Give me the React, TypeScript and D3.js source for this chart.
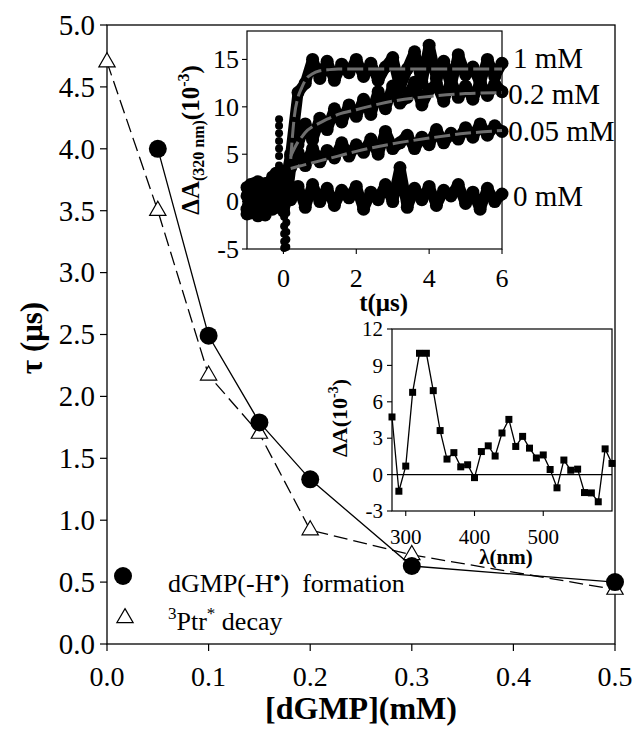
import React from 'react';
import * as d3 from 'd3';

// main plot: lifetimes vs [dGMP]
const radicalConc = [0.05, 0.1, 0.15, 0.2, 0.3, 0.5];
const radicalTau = [4.0, 2.49, 1.79, 1.33, 0.63, 0.5];
const ptrConc = [0, 0.05, 0.1, 0.15, 0.2, 0.3, 0.5];
const ptrTau = [4.7, 3.5, 2.17, 1.7, 0.92, 0.72, 0.44];
const xTicks = [0, 0.1, 0.2, 0.3, 0.4, 0.5];
const yTicks = [0, 0.5, 1, 1.5, 2, 2.5, 3, 3.5, 4, 4.5, 5];

// inset 1: kinetic traces at 320 nm
const preTime = [-1.0, -0.9, -0.8, -0.7, -0.6, -0.5, -0.4, -0.3, -0.2, -0.1, 0.0, 0.1];
const postTime = [0.2, 0.4, 0.6, 0.8, 1.0, 1.2, 1.4, 1.6, 1.8, 2.0, 2.2, 2.4, 2.6, 2.8, 3.0,
  3.2, 3.4, 3.6, 3.8, 4.0, 4.2, 4.4, 4.6, 4.8, 5.0, 5.2, 5.4, 5.6, 5.8, 6.0];
const trace0Pre = [1.5, -1.2, 0.8, -1.5, 1.6, -0.5, 2.0, -0.8, 2.5, 0.5, -1.0, 0.3];
const trace005Pre = [-0.8, 1.8, -1.0, 1.2, -0.3, 1.9, 0.2, 2.6, 0.8, 3.2, 0.0, 0.5];
const trace02Pre = [0.6, -0.4, 1.9, 0.3, -1.2, 1.0, -0.2, 1.5, 3.0, 1.0, -0.5, 2.0];
const trace1Pre = [-1.3, 0.9, 0.0, 2.1, 0.6, -1.4, 1.2, 0.4, 1.8, -0.6, 0.8, 3.0];
const trace0Post = [0.2, 1.6, -0.6, 1.8, 0.0, 1.4, -0.4, 1.2, 0.4, 1.6, -0.8, 1.0, 0.2, 1.8, 0.0,
  3.6, -0.6, 1.4, 0.2, 1.6, -0.4, 1.2, 0.6, 1.8, -0.2, 1.0, -0.8, 1.4, 0.0, 0.8];
const trace005Post = [3.6, 5.2, 3.8, 5.6, 4.2, 5.4, 4.6, 6.2, 4.8, 6.0, 5.2, 6.6, 5.0, 7.4, 5.6,
  6.2, 7.0, 5.6, 6.8, 6.0, 7.6, 6.2, 7.2, 6.6, 7.8, 6.8, 8.2, 7.0, 8.0, 7.4];
const trace02Post = [4.8, 6.0, 8.2, 6.5, 8.8, 7.6, 9.8, 8.4, 10.2, 9.0, 10.8, 9.2, 11.6, 9.8, 12.2,
  10.4, 11.0, 12.6, 10.2, 11.8, 12.4, 10.6, 12.8, 11.0, 12.2, 10.8, 12.6, 11.2, 12.4, 11.6];
const trace1Post = [5.0, 11.5, 12.5, 15.0, 13.0, 14.8, 12.8, 14.5, 13.6, 15.0, 13.2, 14.6, 12.8, 14.2, 15.2,
  12.0, 14.0, 15.8, 12.5, 16.5, 13.0, 14.8, 12.2, 15.5, 13.4, 14.2, 12.5, 15.0, 13.2, 14.6];
const spikeUpTime = -0.12;
const spikeUpValues = [2.8, 3.8, 4.8, 5.6, 6.4, 7.2, 8.0, 8.7];
const spikeDownTime = [0.02, 0.08];
const spikeDownA = [-0.6, -1.6, -2.6, -3.4, -4.2, -4.9];
const spikeDownB = [-1.2, -2.2, -3.2, -4.0, -4.8];
const fitTime = [0.2, 0.3, 0.4, 0.5, 0.6, 0.8, 1.0, 1.2, 1.5, 2, 3, 4, 5, 6];
const fit1 = [4.5, 9.0, 11.0, 12.0, 12.8, 13.5, 13.8, 13.9, 14.0, 14.0, 14.0, 14.0, 14.0, 14.0];
const fit02 = [4.8, 5.6, 6.3, 6.8, 7.3, 7.9, 8.3, 8.7, 9.2, 9.7, 10.6, 11.1, 11.4, 11.5];
const fit005 = [3.5, 3.6, 3.7, 3.8, 3.9, 4.1, 4.3, 4.5, 4.8, 5.3, 6.1, 6.7, 7.2, 7.5];
const traceLabels = ['1 mM', '0.2 mM', '0.05 mM', '0 mM'];
const traceLabelT = [6.3, 6.17, 6.17, 6.3];
const traceLabelV = [15.05, 11.26, 7.26, 0.5];
const insetTimeTicks = [0, 2, 4, 6];
const insetAbsTicks = [-5, 0, 5, 10, 15];

// inset 2: transient spectrum
const wavelength = [280, 290, 300, 310, 320, 330, 340, 350, 360, 370, 380, 390, 400, 410, 420, 430,
  440, 450, 460, 470, 480, 490, 500, 510, 520, 530, 540, 550, 560, 570, 580, 590, 600];
const spectrum = [4.75, -1.37, 0.7, 6.78, 10.0, 10.0, 6.92, 3.63, 1.28, 1.81, 0.64, 0.81, -0.25, 1.9, 2.37, 1.53,
  3.43, 4.55, 2.32, 3.15, 2.18, 1.37, 1.62, 0.42, -1.09, 1.2, 0.36, 0.45, -1.48, -1.51, -2.24, 2.12, 0.92];
const specXTicks = [300, 400, 500];
const specYTicks = [-3, 0, 3, 6, 9, 12];

const FONT = 'Liberation Serif, Times New Roman, Tinos, serif';

export default function App() {
  // main scales
  const x = d3.scaleLinear().domain([0, 0.5]).range([107, 615]);
  const y = d3.scaleLinear().domain([0, 5]).range([644, 25]);
  const line = d3.line<[number, number]>().x(d => x(d[0])).y(d => y(d[1]));
  const radicalPts = radicalConc.map((c, i) => [c, radicalTau[i]] as [number, number]);
  const ptrPts = ptrConc.map((c, i) => [c, ptrTau[i]] as [number, number]);
  const tri = d3.symbol().type(d3.symbolTriangle).size(115)();
  const f1 = d3.format('.1f');

  // inset 1
  const ix = d3.scaleLinear().domain([-1, 6]).range([247, 502]);
  const iy = d3.scaleLinear().domain([-5, 18]).range([249, 31]);
  const iline = d3.line<[number, number]>().x(d => ix(d[0])).y(d => iy(d[1]));
  const fitLine = d3.line<[number, number]>().x(d => ix(d[0])).y(d => iy(d[1])).curve(d3.curveMonotoneX);
  const traces = [
    [trace1Pre, trace1Post],
    [trace02Pre, trace02Post],
    [trace005Pre, trace005Post],
    [trace0Pre, trace0Post],
  ].map(([pre, post]) => [
    ...preTime.map((t, i) => [t, pre[i]] as [number, number]),
    ...postTime.map((t, i) => [t, post[i]] as [number, number]),
  ]);
  const fits = [fit1, fit02, fit005].map(f => fitTime.map((t, i) => [t, f[i]] as [number, number]));
  const spikeDots: [number, number][] = [
    ...spikeUpValues.map(v => [spikeUpTime, v] as [number, number]),
    ...spikeDownA.map(v => [spikeDownTime[0], v] as [number, number]),
    ...spikeDownB.map(v => [spikeDownTime[1], v] as [number, number]),
  ];

  // inset 2
  const sx = d3.scaleLinear().domain([280, 600]).range([392, 612]);
  const sy = d3.scaleLinear().domain([-3, 12]).range([511, 329]);
  const sline = d3.line<number>().x((_, i) => sx(wavelength[i])).y(d => sy(d));

  return (
    <svg width={636} height={729} style={{ position: 'absolute', left: 0, top: 0, background: '#fff', fontFamily: FONT }}>
      <rect x={0} y={0} width={636} height={729} fill="#fff" />

      {/* main frame */}
      <rect x={x(0)} y={y(5)} width={x(0.5) - x(0)} height={y(0) - y(5)} fill="none" stroke="#000" strokeWidth={1.3} />
      {yTicks.map(t => (
        <g key={'yt' + t}>
          <line x1={x(0) - 7} x2={x(0)} y1={y(t)} y2={y(t)} stroke="#000" strokeWidth={1.2} />
          <text x={x(0) - 12} y={y(t)} dy="0.34em" textAnchor="end" fontSize={29}>{f1(t)}</text>
        </g>
      ))}
      {xTicks.map(t => (
        <g key={'xt' + t}>
          <line x1={x(t)} x2={x(t)} y1={y(0)} y2={y(0) + 7} stroke="#000" strokeWidth={1.2} />
          <text x={x(t)} y={686} textAnchor="middle" fontSize={28}>{f1(t)}</text>
        </g>
      ))}
      <text x={361} y={719} textAnchor="middle" fontSize={32} fontWeight="bold">[dGMP](mM)</text>
      <text transform="translate(42,338) rotate(-90)" textAnchor="middle" fontSize={31} fontWeight="bold">τ (μs)</text>

      {/* series */}
      <path d={line(ptrPts) || ''} fill="none" stroke="#000" strokeWidth={1.3} strokeDasharray="14,6" />
      <path d={line(radicalPts) || ''} fill="none" stroke="#000" strokeWidth={1.3} />
      {ptrPts.map((p, i) => (
        <path key={'tr' + i} d={tri || ''} transform={`translate(${x(p[0])},${y(p[1])})`}
          fill="#fff" stroke="#000" strokeWidth={1.2} />
      ))}
      {radicalPts.map((p, i) => (
        <circle key={'ci' + i} cx={x(p[0])} cy={y(p[1])} r={9} fill="#000" />
      ))}

      {/* legend */}
      <circle cx={123} cy={576} r={9} fill="#000" />
      <text x={168} y={592} fontSize={26} xmlSpace="preserve">
        dGMP(-H<tspan fontWeight="bold" fontSize={20} dy={-7}>•</tspan><tspan dy={7}>)  formation</tspan>
      </text>
      <path d={tri || ''} transform="translate(125,618)" fill="#fff" stroke="#000" strokeWidth={1.2} />
      <text x={168} y={630} fontSize={26} xmlSpace="preserve">
        <tspan fontSize={17} dy={-11}>3</tspan><tspan dy={11}>Ptr</tspan><tspan fontSize={17} dy={-11}>*</tspan><tspan dy={11}> decay</tspan>
      </text>

      {/* inset 1: kinetics */}
      <rect x={ix(-1)} y={iy(18)} width={ix(6) - ix(-1)} height={iy(-5) - iy(18)} fill="#fff" stroke="#000" strokeWidth={1.2} />
      {insetAbsTicks.map(t => (
        <g key={'iyt' + t}>
          <line x1={ix(-1) - 5} x2={ix(-1)} y1={iy(t)} y2={iy(t)} stroke="#000" strokeWidth={1.1} />
          <text x={ix(-1) - 8} y={iy(t)} dy="0.34em" textAnchor="end" fontSize={26}>{t}</text>
        </g>
      ))}
      {insetTimeTicks.map(t => (
        <g key={'ixt' + t}>
          <line x1={ix(t)} x2={ix(t)} y1={iy(-5)} y2={iy(-5) + 5} stroke="#000" strokeWidth={1.1} />
          <text x={ix(t)} y={287} textAnchor="middle" fontSize={26}>{t}</text>
        </g>
      ))}
      <text x={ix(2.75)} y={311} textAnchor="middle" fontSize={25} fontWeight="bold">t(μs)</text>
      <text transform="translate(199,140) rotate(-90)" textAnchor="middle" fontSize={25} fontWeight="bold">
        ΔA<tspan fontSize={16} dy={5}>(320 nm)</tspan><tspan dy={-5}>(10</tspan><tspan fontSize={16} dy={-10}>-3</tspan><tspan dy={10}>)</tspan>
      </text>
      {traces.map((tr, k) => (
        <g key={'trace' + k}>
          <path d={iline(tr) || ''} fill="none" stroke="#000" strokeWidth={11} strokeLinejoin="round" strokeLinecap="round" />
          {tr.map((p, i) => (
            <circle key={i} cx={ix(p[0])} cy={iy(p[1])} r={6.5} fill="#000" />
          ))}
        </g>
      ))}
      {spikeDots.map((p, i) => (
        <circle key={'sp' + i} cx={ix(p[0])} cy={iy(p[1])} r={4} fill="#000" />
      ))}
      {fits.map((f, k) => (
        <path key={'fit' + k} d={fitLine(f) || ''} fill="none" stroke="#6e6e6e" strokeWidth={3} strokeDasharray="16,5" />
      ))}
      {traceLabels.map((l, i) => (
        <text key={l} x={ix(traceLabelT[i])} y={iy(traceLabelV[i])} dy="0.3em" fontSize={29}>{l}</text>
      ))}

      {/* inset 2: spectrum */}
      <rect x={sx(280)} y={sy(12)} width={sx(600) - sx(280)} height={sy(-3) - sy(12)} fill="#fff" stroke="#000" strokeWidth={1.2} />
      <line x1={sx(280)} x2={sx(600)} y1={sy(0)} y2={sy(0)} stroke="#000" strokeWidth={1.1} />
      {specYTicks.map(t => (
        <g key={'syt' + t}>
          <line x1={sx(280) - 5} x2={sx(280)} y1={sy(t)} y2={sy(t)} stroke="#000" strokeWidth={1.1} />
          <text x={sx(280) - 9} y={sy(t)} dy="0.34em" textAnchor="end" fontSize={21}>{t}</text>
        </g>
      ))}
      {specXTicks.map(t => (
        <g key={'sxt' + t}>
          <line x1={sx(t)} x2={sx(t)} y1={sy(-3)} y2={sy(-3) + 5} stroke="#000" strokeWidth={1.1} />
          <text x={sx(t)} y={544} textAnchor="middle" fontSize={21}>{t}</text>
        </g>
      ))}
      <text x={506} y={564} textAnchor="middle" fontSize={21} fontWeight="bold">λ(nm)</text>
      <text transform="translate(347,418) rotate(-90)" textAnchor="middle" fontSize={22} fontWeight="bold">
        ΔA(10<tspan fontSize={14} dy={-9}>-3</tspan><tspan dy={9}>)</tspan>
      </text>
      <path d={sline(spectrum) || ''} fill="none" stroke="#000" strokeWidth={1.3} />
      {spectrum.map((v, i) => (
        <rect key={'sq' + i} x={sx(wavelength[i]) - 3.5} y={sy(v) - 3.5} width={7} height={7} fill="#000" />
      ))}
    </svg>
  );
}
